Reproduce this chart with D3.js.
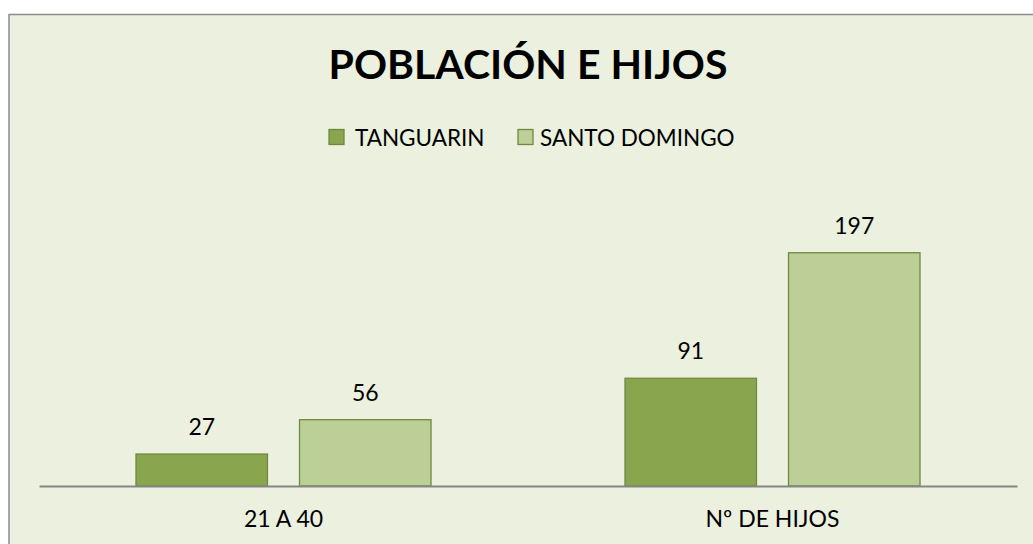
<!DOCTYPE html>
<html>
<head>
<meta charset="utf-8">
<script src="https://cdn.jsdelivr.net/npm/d3@7"></script>
<style>
  body { margin: 0; background: #ffffff; }
  text { font-family: Lato, "Open Sans", sans-serif; fill: #000; }
</style>
</head>
<body>
<div id="chart"></div>
<script>
var svgWidth = 1033;
var svgHeight = 544;

// chart data
var categories = ["21 A 40", "Nº DE HIJOS"];
var series = ["TANGUARIN", "SANTO DOMINGO"];
var tanguarin = [27, 91];
var santoDomingo = [56, 197];
var colors = ["#89a54e", "#bbcf97"];

var values = [tanguarin, santoDomingo];

var svg = d3.select("#chart")
  .append("svg")
  .attr("width", svgWidth)
  .attr("height", svgHeight);

// chart area with grey border
svg.append("rect")
  .attr("x", 9)
  .attr("y", 14.5)
  .attr("width", 1040)
  .attr("height", 560)
  .attr("fill", "#ebf0df")
  .attr("stroke", "#8c8c8c")
  .attr("stroke-width", 1.5);

// title
svg.append("text")
  .attr("x", 528)
  .attr("y", 79)
  .attr("text-anchor", "middle")
  .style("font-size", "41px")
  .style("font-weight", "bold")
  .text("POBLACIÓN E HIJOS");

// scales
var x0 = d3.scaleBand()
  .domain(categories)
  .range([39, 1017]);

var x1 = d3.scaleBand()
  .domain(series)
  .range([97, 392])
  .paddingInner(0.196);

var y = d3.scaleLinear()
  .domain([0, 250])
  .range([486, 190]);

// bars
var groups = svg.selectAll(".group")
  .data(categories)
  .enter()
  .append("g")
  .attr("class", "group")
  .attr("transform", d => `translate(${x0(d)}, 0)`);

groups.each(function(cat, ci) {
  var g = d3.select(this);
  series.forEach(function(s, si) {
    var v = values[si][ci];
    g.append("rect")
      .attr("x", x1(s))
      .attr("y", y(v))
      .attr("width", x1.bandwidth())
      .attr("height", y(0) - y(v))
      .attr("fill", colors[si])
      .attr("stroke", "#71893f")
      .attr("stroke-width", 1.3);

    g.append("text")
      .attr("x", x1(s) + x1.bandwidth() / 2)
      .attr("y", y(v) - 19)
      .attr("text-anchor", "middle")
      .style("font-size", "23px")
      .text(v);
  });
});

// x axis line and category labels
var xAxis = svg.append("g")
  .attr("transform", `translate(0, ${y(0)})`)
  .call(d3.axisBottom(x0).tickSize(0).tickPadding(25));

xAxis.select(".domain")
  .attr("stroke", "#868686")
  .attr("stroke-width", 2);

xAxis.selectAll("text")
  .style("font-size", "23px")
  .style("font-family", "Lato, 'Open Sans', sans-serif")
  .attr("fill", "#000");

// legend
var legendItems = [
  { name: series[0], x: 329, tx: 355 },
  { name: series[1], x: 518, tx: 540 }
];

var legend = svg.append("g");

legendItems.forEach(function(item, i) {
  legend.append("rect")
    .attr("x", item.x)
    .attr("y", 129.5)
    .attr("width", 15)
    .attr("height", 15)
    .attr("fill", colors[i])
    .attr("stroke", "#71893f")
    .attr("stroke-width", 1.3);

  legend.append("text")
    .attr("x", item.tx)
    .attr("y", 145.5)
    .style("font-size", "22.5px")
    .text(item.name);
});
</script>
</body>
</html>
